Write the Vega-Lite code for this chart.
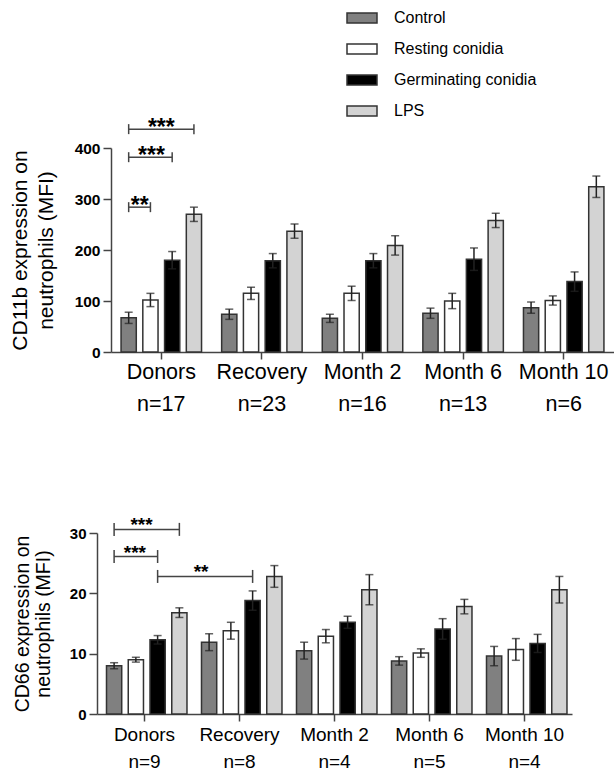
{
  "$schema": "https://vega.github.io/schema/vega-lite/v6.json",
  "background": "white",
  "padding": {"left": 9, "top": 2, "right": 0, "bottom": 0},
  "config": {
    "font": "Liberation Sans",
    "view": {"stroke": null},
    "axis": {"domainColor": "#444", "domainWidth": 1.5, "tickColor": "#444", "tickWidth": 1.5, "labelColor": "black", "titleColor": "black", "grid": false, "labelFont": "Liberation Sans", "titleFont": "Liberation Sans", "titleFontWeight": "normal"},
    "axisY": {"labelFontWeight": "bold", "tickSize": 8, "labelPadding": 3},
    "axisX": {"tickSize": 7, "labelAngle": 0, "labelBaseline": "top"}
  },
  "datasets": {
    "cd11b": [
      {"group": "Donors", "treatment": "Control", "mean": 67, "lo": 56, "hi": 78},
      {"group": "Donors", "treatment": "Resting conidia", "mean": 102, "lo": 89, "hi": 115},
      {"group": "Donors", "treatment": "Germinating conidia", "mean": 180, "lo": 163, "hi": 197},
      {"group": "Donors", "treatment": "LPS", "mean": 270, "lo": 256, "hi": 284},
      {"group": "Recovery", "treatment": "Control", "mean": 74, "lo": 64, "hi": 84},
      {"group": "Recovery", "treatment": "Resting conidia", "mean": 115, "lo": 103, "hi": 127},
      {"group": "Recovery", "treatment": "Germinating conidia", "mean": 179, "lo": 165, "hi": 193},
      {"group": "Recovery", "treatment": "LPS", "mean": 237, "lo": 223, "hi": 251},
      {"group": "Month 2", "treatment": "Control", "mean": 66, "lo": 58, "hi": 74},
      {"group": "Month 2", "treatment": "Resting conidia", "mean": 115, "lo": 101, "hi": 129},
      {"group": "Month 2", "treatment": "Germinating conidia", "mean": 179, "lo": 165, "hi": 193},
      {"group": "Month 2", "treatment": "LPS", "mean": 209, "lo": 190, "hi": 228},
      {"group": "Month 6", "treatment": "Control", "mean": 76, "lo": 66, "hi": 86},
      {"group": "Month 6", "treatment": "Resting conidia", "mean": 100, "lo": 85, "hi": 115},
      {"group": "Month 6", "treatment": "Germinating conidia", "mean": 182, "lo": 160, "hi": 204},
      {"group": "Month 6", "treatment": "LPS", "mean": 258, "lo": 244, "hi": 272},
      {"group": "Month 10", "treatment": "Control", "mean": 87, "lo": 76, "hi": 98},
      {"group": "Month 10", "treatment": "Resting conidia", "mean": 101, "lo": 92, "hi": 110},
      {"group": "Month 10", "treatment": "Germinating conidia", "mean": 138, "lo": 119, "hi": 157},
      {"group": "Month 10", "treatment": "LPS", "mean": 324, "lo": 303, "hi": 345}
    ],
    "cd66": [
      {"group": "Donors", "treatment": "Control", "mean": 8.0, "lo": 7.5, "hi": 8.5},
      {"group": "Donors", "treatment": "Resting conidia", "mean": 9.0, "lo": 8.6, "hi": 9.4},
      {"group": "Donors", "treatment": "Germinating conidia", "mean": 12.3, "lo": 11.6, "hi": 13.0},
      {"group": "Donors", "treatment": "LPS", "mean": 16.8, "lo": 16.0, "hi": 17.6},
      {"group": "Recovery", "treatment": "Control", "mean": 11.9, "lo": 10.5, "hi": 13.3},
      {"group": "Recovery", "treatment": "Resting conidia", "mean": 13.8, "lo": 12.4, "hi": 15.2},
      {"group": "Recovery", "treatment": "Germinating conidia", "mean": 18.8, "lo": 17.2, "hi": 20.4},
      {"group": "Recovery", "treatment": "LPS", "mean": 22.8, "lo": 21.0, "hi": 24.6},
      {"group": "Month 2", "treatment": "Control", "mean": 10.5, "lo": 9.1, "hi": 11.9},
      {"group": "Month 2", "treatment": "Resting conidia", "mean": 12.9, "lo": 11.8, "hi": 14.0},
      {"group": "Month 2", "treatment": "Germinating conidia", "mean": 15.2, "lo": 14.2, "hi": 16.2},
      {"group": "Month 2", "treatment": "LPS", "mean": 20.6, "lo": 18.1, "hi": 23.1},
      {"group": "Month 6", "treatment": "Control", "mean": 8.8, "lo": 8.1, "hi": 9.5},
      {"group": "Month 6", "treatment": "Resting conidia", "mean": 10.1, "lo": 9.4, "hi": 10.8},
      {"group": "Month 6", "treatment": "Germinating conidia", "mean": 14.1, "lo": 12.4, "hi": 15.8},
      {"group": "Month 6", "treatment": "LPS", "mean": 17.8, "lo": 16.6, "hi": 19.0},
      {"group": "Month 10", "treatment": "Control", "mean": 9.6, "lo": 8.0, "hi": 11.2},
      {"group": "Month 10", "treatment": "Resting conidia", "mean": 10.7, "lo": 8.9, "hi": 12.5},
      {"group": "Month 10", "treatment": "Germinating conidia", "mean": 11.7, "lo": 10.2, "hi": 13.2},
      {"group": "Month 10", "treatment": "LPS", "mean": 20.6, "lo": 18.4, "hi": 22.8}
    ],
    "br11b": [
      {"id": "a", "group": "Donors", "treatment": "Control", "level": 437},
      {"id": "a", "group": "Donors", "treatment": "LPS", "level": 437},
      {"id": "b", "group": "Donors", "treatment": "Control", "level": 382},
      {"id": "b", "group": "Donors", "treatment": "Germinating conidia", "level": 382},
      {"id": "c", "group": "Donors", "treatment": "Control", "level": 284},
      {"id": "c", "group": "Donors", "treatment": "Resting conidia", "level": 284}
    ],
    "st11b": [
      {"id": "a", "group": "Donors", "treatment": "LPS", "level": 437, "stars": "***"},
      {"id": "b", "group": "Donors", "treatment": "Resting conidia", "level": 382, "stars": "***"},
      {"id": "c", "group": "Donors", "treatment": "Control", "level": 284, "stars": "**"}
    ],
    "br66": [
      {"id": "a", "group": "Donors", "treatment": "Control", "level": 30.6},
      {"id": "a", "group": "Donors", "treatment": "LPS", "level": 30.6},
      {"id": "b", "group": "Donors", "treatment": "Control", "level": 26.1},
      {"id": "b", "group": "Donors", "treatment": "Germinating conidia", "level": 26.1},
      {"id": "c", "group": "Donors", "treatment": "Germinating conidia", "level": 22.8},
      {"id": "c", "group": "Recovery", "treatment": "Germinating conidia", "level": 22.8}
    ],
    "st66": [
      {"id": "a", "group": "Donors", "treatment": "LPS", "level": 30.6, "stars": "***"},
      {"id": "b", "group": "Donors", "treatment": "Resting conidia", "level": 26.1, "stars": "***"},
      {"id": "c", "group": "Recovery", "treatment": "Control", "level": 22.8, "stars": "**"}
    ]
  },
  "resolve": {"scale": {"color": "independent"}},
  "columns": 1,
  "align": "none",
  "spacing": 101,
  "concat": [
    {
      "width": 517,
      "height": 204,
      "layer": [
        {
          "data": {"name": "cd11b"},
          "mark": {"type": "bar", "stroke": "#333", "strokeWidth": 1.5},
          "encoding": {
            "x": {"field": "group", "type": "nominal", "sort": ["Donors", "Recovery", "Month 2", "Month 6", "Month 10"],
              "scale": {"range": [14, 517], "paddingInner": 0.2, "paddingOuter": 0.1},
              "axis": {"title": null, "labelFontSize": 21.5, "labelLineHeight": 32, "labelPadding": 2,
                "labelExpr": "[datum.label, datum.label == 'Donors' ? 'n=17' : datum.label == 'Recovery' ? 'n=23' : datum.label == 'Month 2' ? 'n=16' : datum.label == 'Month 6' ? 'n=13' : 'n=6']"}},
            "xOffset": {"field": "treatment", "type": "nominal", "sort": ["Control", "Resting conidia", "Germinating conidia", "LPS"],
              "scale": {"domain": ["Control", "Resting conidia", "Germinating conidia", "LPS"], "paddingInner": 0.3, "paddingOuter": 0}},
            "y": {"field": "mean", "type": "quantitative", "scale": {"domain": [0, 400], "nice": false},
              "axis": {"title": ["CD11b expression on", "neutrophils (MFI)"], "values": [0, 100, 200, 300, 400], "offset": -14, "labelFontSize": 15.5, "titleFontSize": 21, "titleLineHeight": 26, "titlePadding": 18}},
            "color": {"field": "treatment", "type": "nominal",
              "scale": {"domain": ["Control", "Resting conidia", "Germinating conidia", "LPS"], "range": ["#808080", "#ffffff", "#000000", "#d3d3d3"]},
              "legend": {"title": null, "orient": "none", "legendX": 249, "legendY": -146, "symbolType": "M-1,-0.333H1V0.333H-1Z", "symbolSize": 900, "symbolStrokeColor": "#333", "symbolStrokeWidth": 1.5, "symbolOpacity": 1, "labelFontSize": 16, "labelOffset": 16, "rowPadding": 7, "labelFont": "Liberation Sans", "labelColor": "black"}}
          }
        },
        {
          "data": {"name": "cd11b"},
          "mark": {"type": "rule", "color": "#222", "strokeWidth": 1.5},
          "encoding": {
            "x": {"field": "group", "type": "nominal", "sort": ["Donors", "Recovery", "Month 2", "Month 6", "Month 10"]},
            "xOffset": {"field": "treatment", "type": "nominal"},
            "y": {"field": "lo", "type": "quantitative"},
            "y2": {"field": "hi"}
          }
        },
        {
          "data": {"name": "cd11b"},
          "mark": {"type": "tick", "color": "#222", "size": 8, "thickness": 1.5, "orient": "horizontal"},
          "encoding": {
            "x": {"field": "group", "type": "nominal", "sort": ["Donors", "Recovery", "Month 2", "Month 6", "Month 10"]},
            "xOffset": {"field": "treatment", "type": "nominal"},
            "y": {"field": "lo", "type": "quantitative"}
          }
        },
        {
          "data": {"name": "cd11b"},
          "mark": {"type": "tick", "color": "#222", "size": 8, "thickness": 1.5, "orient": "horizontal"},
          "encoding": {
            "x": {"field": "group", "type": "nominal", "sort": ["Donors", "Recovery", "Month 2", "Month 6", "Month 10"]},
            "xOffset": {"field": "treatment", "type": "nominal"},
            "y": {"field": "hi", "type": "quantitative"}
          }
        },
        {
          "data": {"name": "br11b"},
          "mark": {"type": "line", "color": "#444", "strokeWidth": 1.5},
          "encoding": {
            "x": {"field": "group", "type": "nominal", "sort": ["Donors", "Recovery", "Month 2", "Month 6", "Month 10"]},
            "xOffset": {"field": "treatment", "type": "nominal"},
            "y": {"field": "level", "type": "quantitative"},
            "detail": {"field": "id"}
          }
        },
        {
          "data": {"name": "br11b"},
          "mark": {"type": "point", "shape": "M0,-1V1", "size": 100, "filled": false, "stroke": "#444", "strokeWidth": 1.5, "opacity": 1},
          "encoding": {
            "x": {"field": "group", "type": "nominal", "sort": ["Donors", "Recovery", "Month 2", "Month 6", "Month 10"]},
            "xOffset": {"field": "treatment", "type": "nominal"},
            "y": {"field": "level", "type": "quantitative"}
          }
        },
        {
          "data": {"name": "st11b"},
          "transform": [{"filter": "datum.id == 'a'"}],
          "mark": {"type": "text", "fontSize": 23, "fontWeight": "bold", "baseline": "alphabetic", "dy": 5.5, "dx": 0},
          "encoding": {
            "x": {"field": "group", "type": "nominal", "sort": ["Donors", "Recovery", "Month 2", "Month 6", "Month 10"]},
            "y": {"field": "level", "type": "quantitative"},
            "text": {"field": "stars"}
          }
        },
        {
          "data": {"name": "st11b"},
          "transform": [{"filter": "datum.id == 'b'"}],
          "mark": {"type": "text", "fontSize": 23, "fontWeight": "bold", "baseline": "alphabetic", "dy": 5.5, "dx": 1},
          "encoding": {
            "x": {"field": "group", "type": "nominal", "sort": ["Donors", "Recovery", "Month 2", "Month 6", "Month 10"]},
            "xOffset": {"field": "treatment", "type": "nominal"},
            "y": {"field": "level", "type": "quantitative"},
            "text": {"field": "stars"}
          }
        },
        {
          "data": {"name": "st11b"},
          "transform": [{"filter": "datum.id == 'c'"}],
          "mark": {"type": "text", "fontSize": 23, "fontWeight": "bold", "baseline": "alphabetic", "dy": 5.5, "dx": 11},
          "encoding": {
            "x": {"field": "group", "type": "nominal", "sort": ["Donors", "Recovery", "Month 2", "Month 6", "Month 10"]},
            "xOffset": {"field": "treatment", "type": "nominal"},
            "y": {"field": "level", "type": "quantitative"},
            "text": {"field": "stars"}
          }
        }
      ]
    },
    {
      "width": 475,
      "height": 181,
      "layer": [
        {
          "data": {"name": "cd66"},
          "mark": {"type": "bar", "stroke": "#333", "strokeWidth": 1.5},
          "encoding": {
            "x": {"field": "group", "type": "nominal", "sort": ["Donors", "Recovery", "Month 2", "Month 6", "Month 10"],
              "scale": {"paddingInner": 0.2, "paddingOuter": 0.1},
              "axis": {"title": null, "labelFontSize": 19, "labelLineHeight": 27, "labelPadding": 4,
                "labelExpr": "[datum.label, datum.label == 'Donors' ? 'n=9' : datum.label == 'Recovery' ? 'n=8' : datum.label == 'Month 2' ? 'n=4' : datum.label == 'Month 6' ? 'n=5' : 'n=4']"}},
            "xOffset": {"field": "treatment", "type": "nominal", "sort": ["Control", "Resting conidia", "Germinating conidia", "LPS"],
              "scale": {"domain": ["Control", "Resting conidia", "Germinating conidia", "LPS"], "paddingInner": 0.3, "paddingOuter": 0}},
            "y": {"field": "mean", "type": "quantitative", "scale": {"domain": [0, 30], "nice": false},
              "axis": {"title": ["CD66 expression on", "neutrophils (MFI)"], "values": [0, 10, 20, 30], "labelFontSize": 15, "titleFontSize": 19.5, "titleLineHeight": 21, "titlePadding": 16}},
            "color": {"field": "treatment", "type": "nominal",
              "scale": {"domain": ["Control", "Resting conidia", "Germinating conidia", "LPS"], "range": ["#808080", "#ffffff", "#000000", "#d3d3d3"]},
              "legend": null}
          }
        },
        {
          "data": {"name": "cd66"},
          "mark": {"type": "rule", "color": "#222", "strokeWidth": 1.5},
          "encoding": {
            "x": {"field": "group", "type": "nominal", "sort": ["Donors", "Recovery", "Month 2", "Month 6", "Month 10"]},
            "xOffset": {"field": "treatment", "type": "nominal"},
            "y": {"field": "lo", "type": "quantitative"},
            "y2": {"field": "hi"}
          }
        },
        {
          "data": {"name": "cd66"},
          "mark": {"type": "tick", "color": "#222", "size": 8, "thickness": 1.5, "orient": "horizontal"},
          "encoding": {
            "x": {"field": "group", "type": "nominal", "sort": ["Donors", "Recovery", "Month 2", "Month 6", "Month 10"]},
            "xOffset": {"field": "treatment", "type": "nominal"},
            "y": {"field": "lo", "type": "quantitative"}
          }
        },
        {
          "data": {"name": "cd66"},
          "mark": {"type": "tick", "color": "#222", "size": 8, "thickness": 1.5, "orient": "horizontal"},
          "encoding": {
            "x": {"field": "group", "type": "nominal", "sort": ["Donors", "Recovery", "Month 2", "Month 6", "Month 10"]},
            "xOffset": {"field": "treatment", "type": "nominal"},
            "y": {"field": "hi", "type": "quantitative"}
          }
        },
        {
          "data": {"name": "br66"},
          "mark": {"type": "line", "color": "#444", "strokeWidth": 1.5},
          "encoding": {
            "x": {"field": "group", "type": "nominal", "sort": ["Donors", "Recovery", "Month 2", "Month 6", "Month 10"]},
            "xOffset": {"field": "treatment", "type": "nominal"},
            "y": {"field": "level", "type": "quantitative"},
            "detail": {"field": "id"}
          }
        },
        {
          "data": {"name": "br66"},
          "mark": {"type": "point", "shape": "M0,-1V1", "size": 169, "filled": false, "stroke": "#444", "strokeWidth": 1.5, "opacity": 1},
          "encoding": {
            "x": {"field": "group", "type": "nominal", "sort": ["Donors", "Recovery", "Month 2", "Month 6", "Month 10"]},
            "xOffset": {"field": "treatment", "type": "nominal"},
            "y": {"field": "level", "type": "quantitative"}
          }
        },
        {
          "data": {"name": "st66"},
          "transform": [{"filter": "datum.id == 'a'"}],
          "mark": {"type": "text", "fontSize": 19, "fontWeight": "bold", "baseline": "alphabetic", "dy": 2, "dx": -3},
          "encoding": {
            "x": {"field": "group", "type": "nominal", "sort": ["Donors", "Recovery", "Month 2", "Month 6", "Month 10"]},
            "y": {"field": "level", "type": "quantitative"},
            "text": {"field": "stars"}
          }
        },
        {
          "data": {"name": "st66"},
          "transform": [{"filter": "datum.id == 'b'"}],
          "mark": {"type": "text", "fontSize": 19, "fontWeight": "bold", "baseline": "alphabetic", "dy": 2, "dx": -1},
          "encoding": {
            "x": {"field": "group", "type": "nominal", "sort": ["Donors", "Recovery", "Month 2", "Month 6", "Month 10"]},
            "xOffset": {"field": "treatment", "type": "nominal"},
            "y": {"field": "level", "type": "quantitative"},
            "text": {"field": "stars"}
          }
        },
        {
          "data": {"name": "st66"},
          "transform": [{"filter": "datum.id == 'c'"}],
          "mark": {"type": "text", "fontSize": 19, "fontWeight": "bold", "baseline": "alphabetic", "dy": 2, "dx": -8},
          "encoding": {
            "x": {"field": "group", "type": "nominal", "sort": ["Donors", "Recovery", "Month 2", "Month 6", "Month 10"]},
            "xOffset": {"field": "treatment", "type": "nominal"},
            "y": {"field": "level", "type": "quantitative"},
            "text": {"field": "stars"}
          }
        }
      ]
    }
  ]
}
